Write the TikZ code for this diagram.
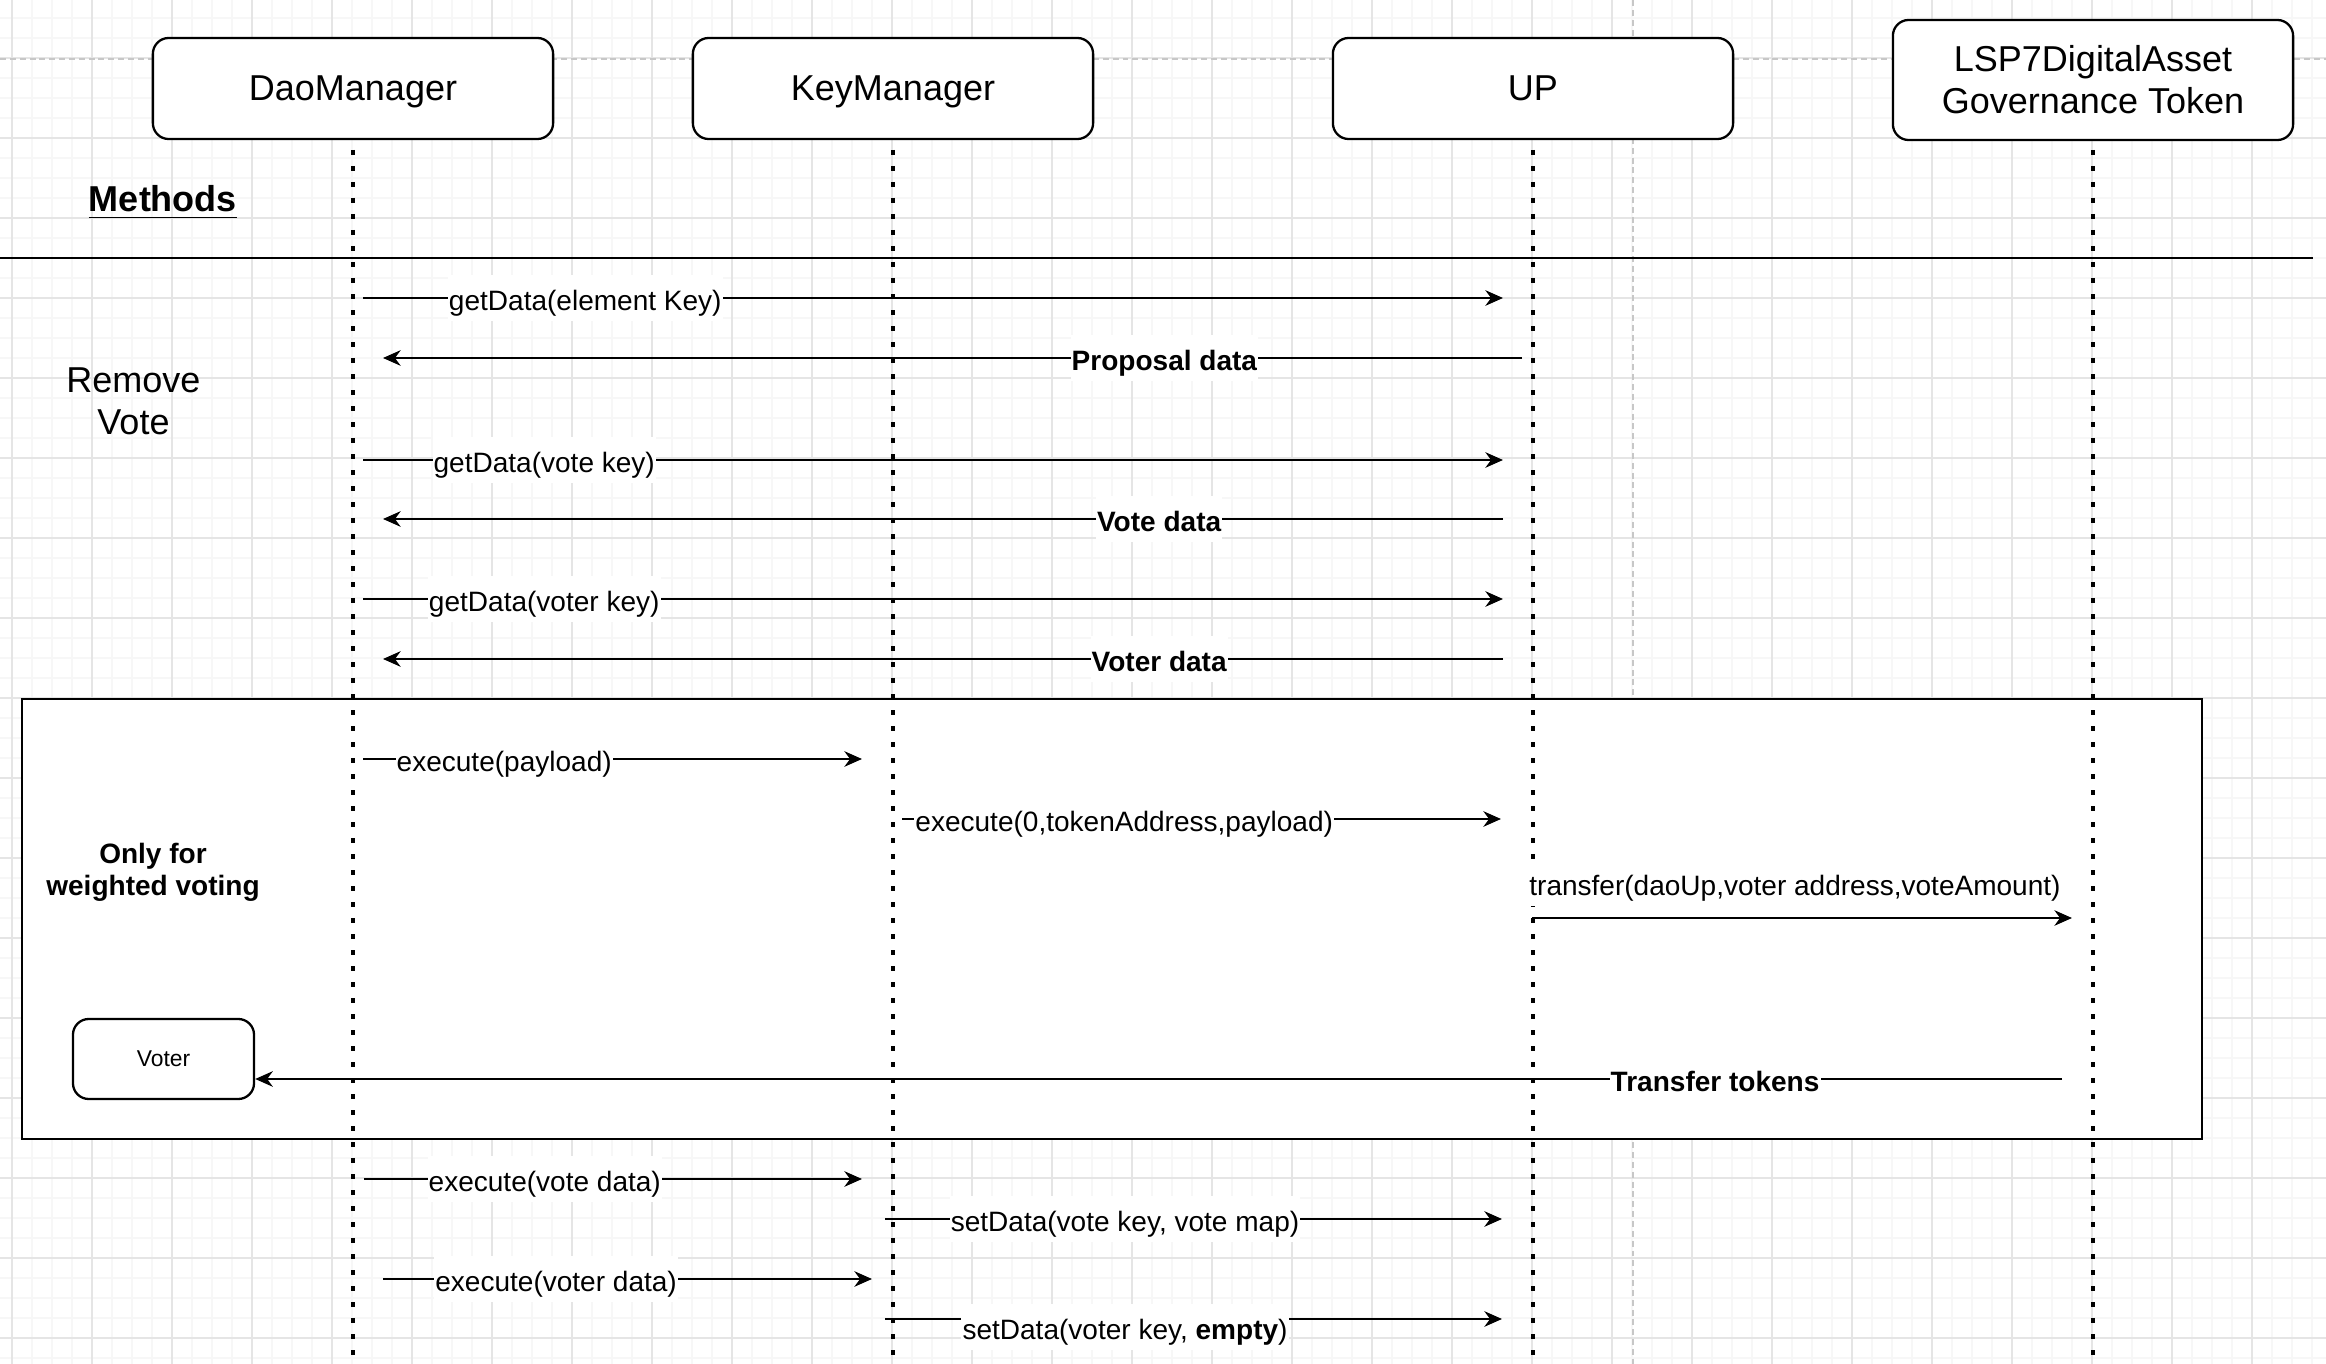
\documentclass[tikz,border=0pt]{standalone}
\usepackage{fontspec}
\setmainfont{Liberation Sans}
\usetikzlibrary{arrows.meta}
\begin{document}
\begin{tikzpicture}[x=0.01cm,y=-0.01cm,
		actor/.style={draw,line width=0.65pt,rounded corners=4.5pt,fill=white,align=center,font=\fontsize{10.24}{11.95}\selectfont,minimum width=4cm,minimum height=1.01cm},
		oneline/.style={text height=0.9em,text depth=0.2em},
		lifeline/.style={line width=1pt,dash pattern=on 1.3pt off 3.25pt},
		msg/.style={line width=0.65pt,-{Stealth[length=5pt,width=4.4pt,inset=1.6pt]}},
		lbl/.style={fill=white,inner xsep=0.3pt,inner ysep=1pt,text height=0.92em,text depth=0.2em,font=\fontsize{7.97}{9.5}\selectfont},
		lblb/.style={lbl,font=\fontsize{7.97}{9.5}\selectfont\bfseries},
		minorline/.style={draw=black!3,line width=0.3pt},
		majorline/.style={draw=black!10,line width=0.3pt},
		pagebreak/.style={draw=black!22,line width=0.4pt,dash pattern=on 1.7pt off 1.1pt}]
		\useasboundingbox (0,0) rectangle (2326,1364);
		\foreach \gx in {12,32,...,2326} \draw[minorline] (\gx,0) -- (\gx,1364);
		\foreach \gy in {18,38,...,1364} \draw[minorline] (0,\gy) -- (2326,\gy);
		\foreach \gx in {12,92,...,2326} \draw[majorline] (\gx,0) -- (\gx,1364);
		\foreach \gy in {58,138,...,1364} \draw[majorline] (0,\gy) -- (2326,\gy);
		\draw[pagebreak] (0,59) -- (2326,59);
		\draw[pagebreak] (1633,0) -- (1633,1364);
		\draw[line width=0.65pt,fill=white] (22,699) rectangle (2202,1139);
		\draw[line width=0.65pt] (0,258) -- (2313,258);
		\node[actor,oneline] (dao) at (353,88.5) {DaoManager};
		\node[actor,oneline] (km) at (893,88.5) {KeyManager};
		\node[actor,oneline] (up) at (1533,88.5) {UP};
		\node[actor,minimum height=1.2cm] (lsp) at (2093,80) {LSP7DigitalAsset\\Governance Token};
		\foreach \n in {dao,km,up,lsp}
			\draw[lifeline] (\n.south |- 0,150) -- (\n.south |- 0,1356);
		\node[anchor=base,font=\fontsize{10.24}{12}\selectfont\bfseries] (methods) at (163,212) {\underline{Methods}};
		\node[align=center,font=\fontsize{10.24}{11.95}\selectfont] (remove) at (133.5,401) {Remove\\Vote};
		\node[align=center,font=\fontsize{7.97}{9.1}\selectfont\bfseries] (weighted) at (153,872) {Only for\\weighted voting};
		\node[draw,line width=0.65pt,rounded corners=4.5pt,fill=white,minimum width=1.81cm,minimum height=0.8cm,font=\fontsize{6.5}{8}\selectfont] (voter) at (163.5,1059) {Voter};
		\coordinate (m1a) at (363,298); \coordinate (m1b) at (1503,298);
		\coordinate (m2a) at (1522,358); \coordinate (m2b) at (383,358);
		\coordinate (m3a) at (363,460); \coordinate (m3b) at (1503,460);
		\coordinate (m4a) at (1503,519); \coordinate (m4b) at (383,519);
		\coordinate (m5a) at (363,599); \coordinate (m5b) at (1503,599);
		\coordinate (m6a) at (1503,659); \coordinate (m6b) at (383,659);
		\coordinate (m7a) at (363,759); \coordinate (m7b) at (862,759);
		\coordinate (m8a) at (902,819); \coordinate (m8b) at (1501,819);
		\coordinate (m9a) at (1532,918); \coordinate (m9b) at (2072,918);
		\coordinate (m10a) at (2062,1079);
		\coordinate (m11a) at (364,1179); \coordinate (m11b) at (862,1179);
		\coordinate (m12a) at (885,1219); \coordinate (m12b) at (1502,1219);
		\coordinate (m13a) at (383,1279); \coordinate (m13b) at (872,1279);
		\coordinate (m14a) at (885,1319); \coordinate (m14b) at (1502,1319);
		\draw[msg] (m1a) -- node[lbl,pos=0.195] {getData(element Key)} (m1b);
		\draw[msg] (m2a) -- node[lblb,pos=0.314] {Proposal data} (m2b);
		\draw[msg] (m3a) -- node[lbl,pos=0.159] {getData(vote key)} (m3b);
		\draw[msg] (m4a) -- node[lblb,pos=0.307] {Vote data} (m4b);
		\draw[msg] (m5a) -- node[lbl,pos=0.159] {getData(voter key)} (m5b);
		\draw[msg] (m6a) -- node[lblb,pos=0.307] {Voter data} (m6b);
		\draw[msg] (m7a) -- node[lbl,pos=0.283] {execute(payload)} (m7b);
		\draw[msg] (m8a) -- node[lbl,pos=0.371] {execute(0,tokenAddress,payload)} (m8b);
		\draw[msg] (m9a) -- node[lbl,pos=0.487,yshift=0.35cm] {transfer(daoUp,voter address,voteAmount)} (m9b);
		\draw[msg] (m10a) -- node[lblb,pos=0.192] {Transfer tokens} (voter.east |- m10a);
		\draw[msg] (m11a) -- node[lbl,pos=0.363] {execute(vote data)} (m11b);
		\draw[msg] (m12a) -- node[lbl,pos=0.389] {setData(vote key, vote map)} (m12b);
		\draw[msg] (m13a) -- node[lbl,pos=0.354] {execute(voter data)} (m13b);
		\draw[msg] (m14a) -- node[lbl,pos=0.389,yshift=-0.08cm] {setData(voter key, \textbf{empty})} (m14b);
	\end{tikzpicture}
\end{document}
